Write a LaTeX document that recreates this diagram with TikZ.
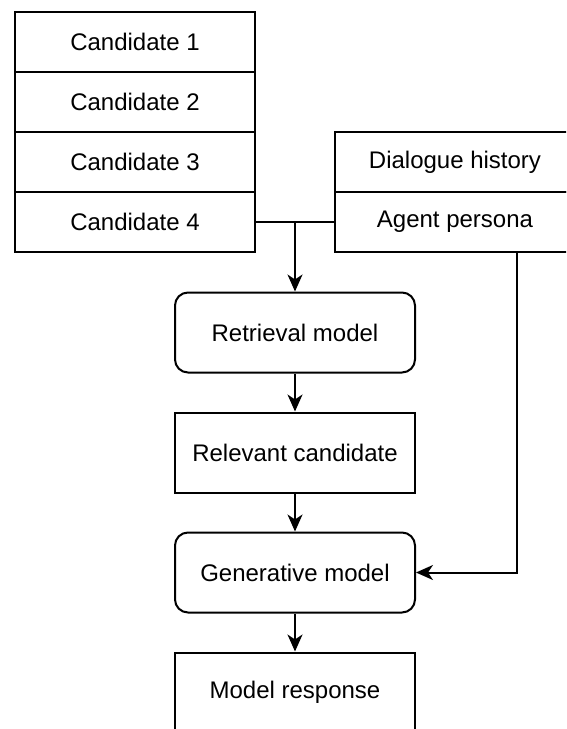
\documentclass[tikz,border=0pt]{standalone}
\usepackage{fontspec}
\setmainfont{Liberation Sans}
\usetikzlibrary{arrows.meta}
\begin{document}
\begin{tikzpicture}[x=1pt,y=-1pt,
  line width=2pt,
  every node/.style={font=\fontsize{24}{28}\selectfont, inner sep=0pt},
  cell/.style={draw, rectangle, minimum width=240pt, minimum height=60pt},
  stage/.style={draw, rectangle, minimum width=240pt, minimum height=80pt},
  model/.style={stage, rounded corners=13pt},
  flow/.style={-{Stealth[length=17pt,width=15pt,inset=5pt]}}
]
\useasboundingbox (0,0) rectangle (566,729);
\clip (0,0) rectangle (566,729);

% candidate stack
\node[cell] (c1) at (135,42)  {Candidate 1};
\node[cell] (c2) at (135,102) {Candidate 2};
\node[cell] (c3) at (135,162) {Candidate 3};
\node[cell] (c4) at (135,222) {Candidate 4};

% context stack
\node[cell] (dh) at (455,162) {Dialogue history};
\node[cell] (ap) at (455,222) {Agent persona};

% pipeline
\node[model] (rm) at (295,332.5) {Retrieval model};
\node[stage] (rc) at (295,452.5) {Relevant candidate};
\node[model] (gm) at (295,572.5) {Generative model};
\node[stage] (mr) at (295,692.5) {Model response};

% merge point of the two stacks
\coordinate (jn) at (295,222);
\coordinate (pd) at (517,252);

\draw (c4.east) -- (jn);
\draw (ap.west) -- (jn);
\draw[flow] (jn) -- (rm.north);
\draw[flow] (rm) -- (rc);
\draw[flow] (rc) -- (gm);
\draw[flow] (gm) -- (mr);
\draw[flow] (pd) |- (gm.east);
\end{tikzpicture}
\end{document}
